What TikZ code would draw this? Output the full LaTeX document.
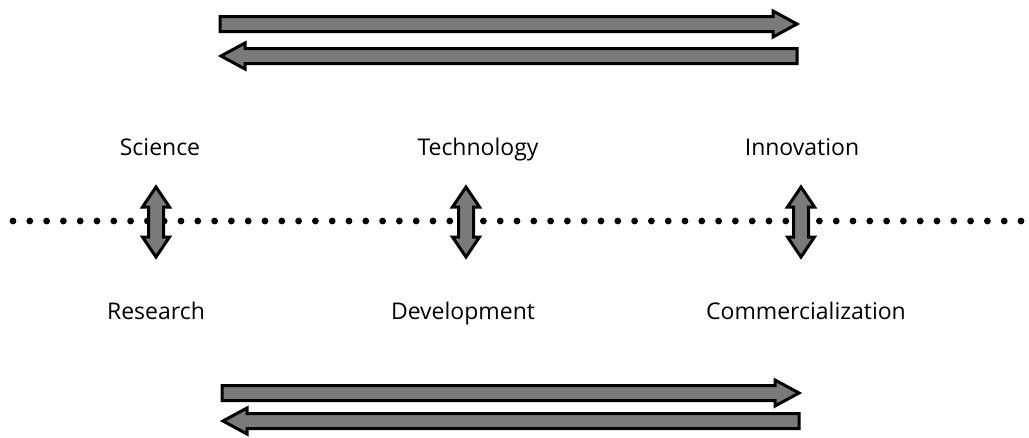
\documentclass[tikz,border=0pt]{standalone}
\usepackage{fontspec}
\setmainfont{Open Sans}
\begin{document}
\begin{tikzpicture}[x=1pt,y=-1pt,
  arrowfill/.style={fill=black!52},
  arrowline/.style={draw=black, line width=3pt, line join=miter},
  grain/.style={fill=white, opacity=0.55},
  label/.style={font=\fontsize{23}{26}\selectfont, text=black, inner sep=0pt, anchor=base},
  dot/.style={fill=black}]
\useasboundingbox (0,0) rectangle (1029,437);
\pgfmathsetseed{7}
% grainy arrow body: #1 = outline path, #2..#5 = box for the speckles, #6 = count
\newcommand{\grainyarrow}[6]{%
  \fill[arrowfill] #1;
  \begin{scope}
    \clip #1;
    \foreach \k in {1,...,#6}{%
      \pgfmathsetmacro\gx{#2+(#3-#2)*rnd}%
      \pgfmathsetmacro\gy{#4+(#5-#4)*rnd}%
      \fill[grain] (\gx,\gy) circle (0.9);}
  \end{scope}
  \draw[arrowline] #1;}
% right-pointing arrow: left, tip, y, halfbar, halfhead, headlen
\newcommand{\rarrow}[6]{%
  \grainyarrow{(#1,#3-#4) -- (#2-#6,#3-#4) -- (#2-#6,#3-#5) -- (#2,#3)
    -- (#2-#6,#3+#5) -- (#2-#6,#3+#4) -- (#1,#3+#4) -- cycle}{#1}{#2}{#3-#5}{#3+#5}{450}}
% left-pointing arrow: tip, right, y, halfbar, halfhead, headlen
\newcommand{\larrow}[6]{%
  \grainyarrow{(#2,#3-#4) -- (#1+#6,#3-#4) -- (#1+#6,#3-#5) -- (#1,#3)
    -- (#1+#6,#3+#5) -- (#1+#6,#3+#4) -- (#2,#3+#4) -- cycle}{#1}{#2}{#3-#5}{#3+#5}{450}}
% vertical double arrow at x
\newcommand{\varrow}[1]{%
  \grainyarrow{(#1,187) -- (#1+13.5,207) -- (#1+7.5,207) -- (#1+7.5,237) -- (#1+13.5,237)
    -- (#1,257) -- (#1-13.5,237) -- (#1-7.5,237) -- (#1-7.5,207) -- (#1-13.5,207) -- cycle}%
    {#1-14}{#1+14}{187}{257}{90}}

% dotted baseline
\foreach \i in {0,...,60} \fill[dot] (13+\i*16.8,221) circle (3.4);

% top pair
\rarrow{220}{797}{24}{7.5}{13}{24}
\larrow{221}{797}{56}{7.5}{13}{24}
% bottom pair
\rarrow{222}{799}{393}{7.5}{13}{24}
\larrow{223}{799}{421}{7.5}{13}{24}

% linking arrows
\varrow{156}
\varrow{466}
\varrow{801}

% labels
\node[label] (sci) at (160,155) {Science};
\node[label] (tech) at (478,155) {Technology};
\node[label] (inn) at (802,155) {Innovation};
\node[label] (res) at (156,319) {Research};
\node[label] (dev) at (463,319) {Development};
\node[label] (com) at (806,319) {Commercialization};
\end{tikzpicture}
\end{document}
